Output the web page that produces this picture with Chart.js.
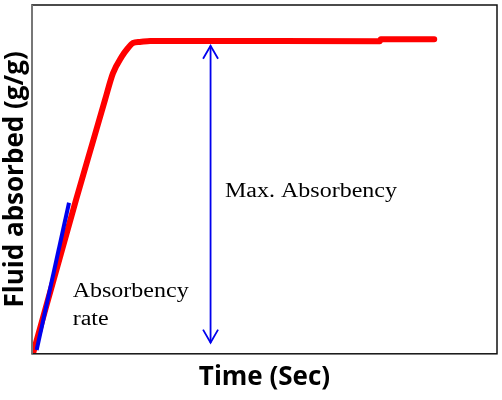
<!DOCTYPE html>
<html>
<head>
<meta charset="utf-8">
<script src="https://cdn.jsdelivr.net/npm/chart.js@4/dist/chart.umd.min.js"></script>
<style>
html,body{margin:0;padding:0;background:#fff;}
#wrap{width:502px;height:400px;position:relative;}
</style>
</head>
<body>
<div id="wrap"><canvas id="c" width="502" height="400"></canvas></div>
<script>
// Data (arbitrary units; axes have no tick labels)
const timeAbsorb = [0.2, 9.46, 13.2, 15.7, 17.4, 19.3, 20.6, 21.7, 23.2, 25.4, 31.8, 74.8, 75.0, 86.5];
const fluidAbsorb = [0, 44.1, 61.3, 72.8, 80.4, 85.2, 87.6, 89.1, 89.4, 89.7, 89.7, 89.6, 90.2, 90.2];
const timeRate = [1.0, 7.96];
const fluidRate = [1.1, 43.3];
const timeMax = [38.4, 38.4];
const fluidMax = [3.2, 88.3];
const noteText = [["Max. Absorbency"], ["Absorbency", "rate"]];
const noteX = [41.5, 8.75];
const noteY = [[45.0], [16.4, 8.3]];
const xTitle = "Time (Sec)";
const yTitle = "Fluid absorbed (g/g)";

const pts = (xs, ys) => xs.map((x, i) => ({x: x, y: ys[i]}));

const framePlugin = {
  id: 'frame',
  afterDatasetsDraw(chart) {
    const ctx = chart.ctx, a = chart.chartArea;
    const xs = chart.scales.x, ys = chart.scales.y;
    ctx.save();
    ctx.strokeStyle = '#111';
    ctx.lineWidth = 1.5;
    ctx.strokeRect(a.left, a.top, a.right - a.left, a.bottom - a.top);
    ctx.strokeStyle = '#777';
    ctx.lineWidth = 2;
    ctx.beginPath(); ctx.moveTo(a.left, a.top); ctx.lineTo(a.left, a.bottom); ctx.stroke();
    const ax = xs.getPixelForValue(timeMax[0]);
    const yTop = ys.getPixelForValue(fluidMax[1]);
    const yBot = ys.getPixelForValue(fluidMax[0]);
    ctx.strokeStyle = '#0000ee';
    ctx.lineWidth = 1.8;
    ctx.beginPath();
    ctx.moveTo(ax - 7.5, yTop + 13); ctx.lineTo(ax, yTop); ctx.lineTo(ax + 7.5, yTop + 13);
    ctx.moveTo(ax - 7.5, yBot - 13); ctx.lineTo(ax, yBot); ctx.lineTo(ax + 7.5, yBot - 13);
    ctx.stroke();
    ctx.fillStyle = '#000';
    ctx.font = '20px "Liberation Serif", "Times New Roman", serif';
    ctx.textBaseline = 'alphabetic';
    ctx.textAlign = 'left';
    noteText.forEach((lines, i) => {
      lines.forEach((t, j) => {
        const px = xs.getPixelForValue(noteX[i]);
        const py = ys.getPixelForValue(noteY[i][j]);
        ctx.save();
        ctx.translate(px, py);
        ctx.scale(1.2, 1);
        ctx.fillText(t, 0, 0);
        ctx.restore();
      });
    });
    ctx.restore();
  }
};

new Chart(document.getElementById('c'), {
  type: 'scatter',
  data: {
    datasets: [
      {
        data: pts(timeAbsorb, fluidAbsorb),
        order: 2,
        showLine: true,
        borderColor: '#ff0000',
        backgroundColor: '#ff0000',
        borderWidth: 6,
        pointRadius: 0,
        cubicInterpolationMode: 'monotone',
        borderCapStyle: 'round',
        borderJoinStyle: 'round'
      },
      {
        data: pts(timeRate, fluidRate),
        order: 1,
        showLine: true,
        borderColor: '#0000ee',
        borderWidth: 4,
        pointRadius: 0,
        borderCapStyle: 'butt'
      },
      {
        data: pts(timeMax, fluidMax),
        order: 0,
        showLine: true,
        borderColor: '#0000ee',
        borderWidth: 1.8,
        pointRadius: 0
      }
    ]
  },
  options: {
    responsive: false,
    animation: false,
    events: [],
    layout: { padding: { left: 0, top: 5, right: 5, bottom: 0 } },
    plugins: { legend: { display: false }, tooltip: { enabled: false } },
    scales: {
      x: {
        type: 'linear', min: 0, max: 100,
        grid: { display: false, drawTicks: false },
        border: { display: false },
        ticks: { display: false },
        title: {
          display: true, text: xTitle, color: '#000',
          font: { family: '"Open Sans", sans-serif', size: 26, weight: 'bold', lineHeight: 1.2 },
          padding: { top: 8, bottom: 7 }
        }
      },
      y: {
        type: 'linear', min: 0, max: 100,
        grid: { display: false, drawTicks: false },
        border: { display: false },
        ticks: { display: false },
        title: {
          display: true, text: yTitle, color: '#000',
          font: { family: '"Open Sans", sans-serif', size: 26, weight: 'bold', lineHeight: 1.0 },
          padding: { top: 3, bottom: 3 }
        }
      }
    }
  },
  plugins: [framePlugin]
});
</script>
</body>
</html>
